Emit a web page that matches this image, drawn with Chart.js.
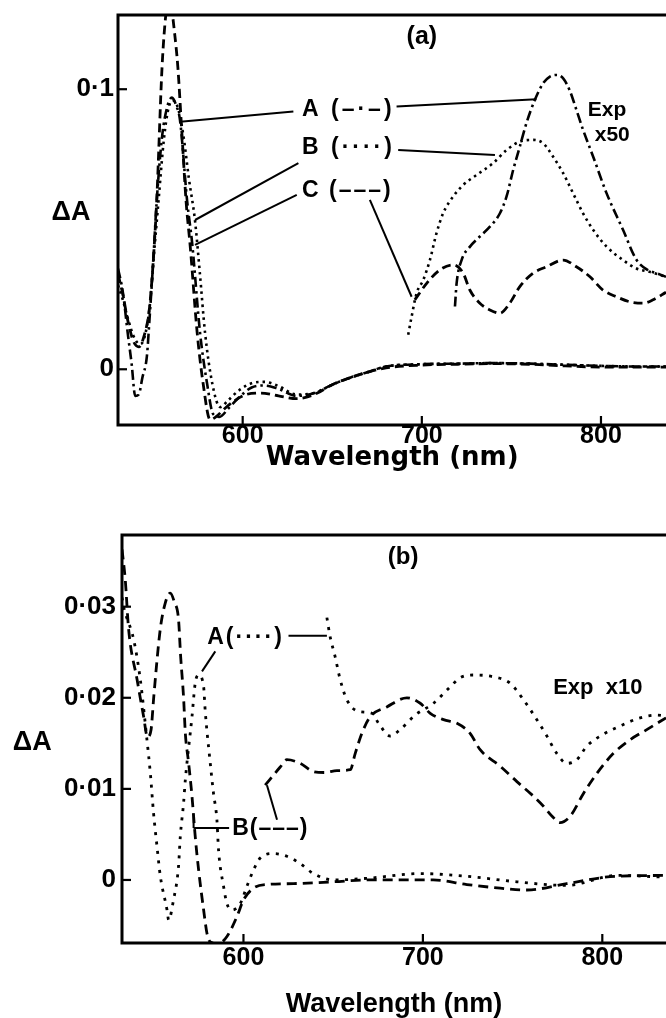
<!DOCTYPE html>
<html><head><meta charset="utf-8">
<script src="https://cdn.jsdelivr.net/npm/chart.js@4/dist/chart.umd.min.js"></script>
<style>
html,body{margin:0;padding:0;background:#fff;overflow:hidden;width:666px;height:1018px}
canvas{display:block;position:absolute;left:0}
#ca{top:0}
#cb{top:475px}
</style></head><body>
<canvas id="ca" width="666" height="475"></canvas>
<canvas id="cb" width="666" height="543"></canvas>
<script>
// ---------- ticks ----------
const xTicks = [600, 700, 800];
const xTickLabels = ['600', '700', '800'];
const aYTicks = [0, 0.1];
const aYTickLabels = ['0', '0·1'];
const bYTicks = [0, 0.01, 0.02, 0.03];
const bYTickLabels = ['0', '0·01', '0·02', '0·03'];

// ---------- Panel (a) data ----------
// A (dash-dot) main
const aA_x = [530.4, 533, 536, 538, 540, 542, 544, 546.5, 548, 550, 552, 555, 558, 560.5, 563, 565, 569, 571.8, 576.2, 580.1, 583.5, 587, 592, 598, 605, 612, 620, 630, 640, 650, 660, 670, 680, 700, 720, 740, 760, 780, 800, 820, 836.3];
const aA_y = [0.036, 0.028, 0.012, 0.002, -0.0095, -0.009, -0.003, 0.0045, 0.018, 0.038, 0.060, 0.083, 0.094, 0.097, 0.094, 0.089, 0.060, 0.045, 0.013, -0.005, -0.016, -0.017, -0.014, -0.010, -0.0065, -0.0058, -0.007, -0.0095, -0.0085, -0.0055, -0.003, -0.001, 0.001, 0.0018, 0.002, 0.0022, 0.002, 0.0016, 0.0012, 0.001, 0.001];
// B (dotted) main
const aB_x = [530.4, 533, 536, 539, 542.5, 545, 548, 551, 553, 556, 558.5, 561, 564, 567, 570, 573.4, 576, 579, 583, 587.4, 592, 598, 605, 612, 620, 630, 640, 650, 660, 670, 680, 700, 720, 740, 760, 780, 800, 820, 836.3];
const aB_y = [0.030, 0.025, 0.018, 0.012, 0.009, 0.011, 0.022, 0.045, 0.060, 0.082, 0.093, 0.096, 0.093, 0.083, 0.068, 0.053, 0.035, 0.013, -0.005, -0.0135, -0.011, -0.0075, -0.005, -0.0045, -0.006, -0.009, -0.0085, -0.0055, -0.003, -0.001, 0.001, 0.0018, 0.002, 0.0022, 0.002, 0.0016, 0.0012, 0.001, 0.001];
// C (dashed) main
const aC_x = [530.4, 533, 536, 539, 542, 545, 548, 550, 552, 555, 557, 558.5, 560, 562, 563.8, 566, 568.4, 570.7, 574.6, 577.9, 581.8, 585, 590, 596, 602, 610, 620, 630, 640, 650, 660, 670, 680, 700, 720, 740, 760, 780, 800, 820, 836.3];
const aC_y = [0.034, 0.027, 0.017, 0.010, 0.008, 0.012, 0.022, 0.038, 0.060, 0.108, 0.126, 0.132, 0.130, 0.120, 0.108, 0.085, 0.060, 0.044, 0.013, -0.005, -0.018, -0.017, -0.014, -0.011, -0.009, -0.0085, -0.0095, -0.0105, -0.009, -0.0055, -0.003, -0.001, 0.0005, 0.0015, 0.0018, 0.002, 0.0018, 0.0012, 0.0008, 0.0008, 0.0008];
// Exp x50 curves
const aAexp_x = [718.5, 719.4, 722.2, 726.9, 732.4, 738.0, 743.6, 747.3, 751.0, 754.7, 758.4, 763.1, 767.7, 771.5, 775.2, 778.9, 782.6, 786.3, 790.0, 795.6, 803.1, 812.3, 819.8, 826, 831.0, 836.3];
const aAexp_y = [0.0224, 0.0306, 0.0390, 0.0438, 0.0474, 0.0509, 0.0557, 0.0617, 0.0712, 0.0795, 0.0879, 0.0962, 0.1021, 0.1045, 0.1051, 0.1039, 0.0995, 0.0926, 0.0855, 0.0760, 0.0629, 0.0498, 0.0391, 0.0355, 0.0343, 0.0330];
const aBexp_x = [692.4, 694.3, 697.1, 700.8, 704.5, 708.2, 711.9, 717.5, 723.1, 730.6, 739.8, 747.3, 754.7, 762.1, 767.7, 773.3, 778.9, 784.4, 790.0, 795.6, 803.1, 812.3, 819.8, 827.2, 836.3];
const aBexp_y = [0.0123, 0.0188, 0.0272, 0.0319, 0.0390, 0.0486, 0.0557, 0.0617, 0.0658, 0.0694, 0.0736, 0.0783, 0.0813, 0.0819, 0.0807, 0.0759, 0.0700, 0.0629, 0.0557, 0.0498, 0.0438, 0.0390, 0.0360, 0.0348, 0.0330];
const aCexp_x = [696.1, 702.7, 710.1, 717.5, 723.1, 726.8, 732.4, 738.0, 743.6, 749.1, 754.7, 762.1, 769.6, 778.9, 786.3, 793.7, 801.1, 808.6, 816.0, 823.5, 829.1, 836.3];
const aCexp_y = [0.0248, 0.0307, 0.0355, 0.0373, 0.0343, 0.0283, 0.0236, 0.0212, 0.0200, 0.0236, 0.0295, 0.0343, 0.0366, 0.0390, 0.0366, 0.0331, 0.0283, 0.0259, 0.0241, 0.0236, 0.0248, 0.0275];

// ---------- Panel (b) data ----------
// A (dotted) main
const bA_x = [532.3, 533.2, 538.8, 542.5, 546.2, 548.1, 549.9, 551.8, 553.6, 557.4, 558.3, 561.0, 563.8, 564.8, 566.6, 567.6, 571.3, 573.1, 575.0, 577.8, 578.7, 581.5, 583.3, 585.2, 586.1, 588.9, 590.8, 593.6, 598.2, 601.9, 605.6, 609.3, 616.8, 624.2, 631.6, 639.0, 650.2, 670, 698.5, 724.5, 752.4, 780, 808.1, 835.5];
const bA_y = [0.031, 0.030, 0.0264, 0.022, 0.0154, 0.0117, 0.0073, 0.0037, 0.0005, -0.0033, -0.0044, -0.0022, 0.0015, 0.0048, 0.0084, 0.011, 0.0179, 0.0216, 0.0225, 0.0212, 0.0185, 0.0128, 0.0095, 0.0066, 0.0033, -0.0007, -0.0026, -0.0033, -0.0026, -0.0007, 0.0011, 0.0024, 0.0029, 0.0026, 0.0018, 0.0007, 0.0, 0.0002, 0.0007, 0.0004, -0.0002, -0.0006, 0.0005, 0.0003];
// B (dashed) main
const bB_x = [532.3, 534.1, 536, 540.7, 544.3, 546.5, 548.5, 550, 553.6, 556.4, 559.2, 561.5, 563.8, 565, 566.6, 567.6, 569.4, 571.3, 573.1, 575, 577.8, 579.7, 581.5, 586, 590.8, 596.4, 600, 605.6, 613.1, 627.9, 650, 668.8, 690, 705.7, 724.5, 743.1, 758, 780.2, 807.1, 835.5];
const bB_y = [0.0363, 0.033, 0.0275, 0.022, 0.018, 0.0157, 0.0165, 0.0201, 0.0275, 0.0304, 0.0315, 0.0305, 0.0286, 0.0245, 0.0201, 0.0161, 0.0129, 0.0092, 0.0048, 0.0011, -0.0033, -0.0059, -0.0068, -0.0070, -0.0062, -0.004, -0.0022, -0.0009, -0.0005, -0.0004, -0.0002, 0.0, 0.0, 0.0, -0.0005, -0.0009, -0.0011, -0.0004, 0.0004, 0.0005];
// Exp x10 curves
const bAexp_x = [646.5, 648.3, 651.1, 653.9, 657.6, 664.1, 671.6, 675.3, 681.8, 687.3, 695.7, 705.9, 715.2, 720.8, 728.2, 739.3, 748.6, 756.0, 763.5, 769.1, 774.6, 780.2, 785.8, 791.4, 798.8, 809.9, 821.1, 830.4, 835.5];
const bAexp_y = [0.0288, 0.0267, 0.0245, 0.0220, 0.0198, 0.0185, 0.0183, 0.0172, 0.0158, 0.0165, 0.0181, 0.0194, 0.0212, 0.0222, 0.0225, 0.0223, 0.0216, 0.0198, 0.0176, 0.0158, 0.0139, 0.0128, 0.0132, 0.0147, 0.0158, 0.0169, 0.0178, 0.0181, 0.0180];
const bBexp_x = [612.1, 620.5, 624.2, 631.6, 639.0, 645, 652.1, 659.5, 662.3, 666.0, 670.6, 679.9, 691.1, 698.5, 704.1, 711.5, 719.0, 726.3, 731.9, 743.0, 752.4, 761.6, 767.2, 772, 776.5, 782.1, 789.5, 797.0, 806.2, 815.5, 824.8, 835.5];
const bBexp_y = [0.0104, 0.0124, 0.0132, 0.0128, 0.0119, 0.0118, 0.0120, 0.0121, 0.0139, 0.0161, 0.0179, 0.0190, 0.0200, 0.0194, 0.0183, 0.0176, 0.0172, 0.0161, 0.0143, 0.0125, 0.0108, 0.0092, 0.0081, 0.0070, 0.0063, 0.0070, 0.0095, 0.0117, 0.0139, 0.0154, 0.0165, 0.0178];

// ---------- helpers ----------
const FONT = '"Liberation Sans", Arial, sans-serif';
const WIDE = '"DejaVu Sans", sans-serif';
const zip = (xs, ys) => xs.map((x, i) => ({x, y: ys[i]}));
const DASHDOT = [10, 4, 2.5, 4];
const DOT_A = [2.5, 4];
const DASH_A = [9, 5];
const DOT_B = [3, 6.5];
const DASH_B = [10, 6];
function ds(xs, ys, dash, w) {
  return {data: zip(xs, ys), borderColor: '#000', borderWidth: w || 2.6, borderDash: dash,
    borderCapStyle: 'butt', fill: false, pointRadius: 0, cubicInterpolationMode: 'monotone'};
}

const framePlugin = {
  id: 'frame',
  afterDatasetsDraw(chart, args, o) {
    const {ctx, chartArea: {left, top, right, bottom}, scales: {x, y}} = chart;
    ctx.save();
    ctx.strokeStyle = '#000';
    ctx.lineWidth = 3;
    ctx.lineCap = 'square';
    ctx.setLineDash([]);
    ctx.beginPath();
    ctx.moveTo(right + 5, top); ctx.lineTo(left, top); ctx.lineTo(left, bottom); ctx.lineTo(right + 5, bottom);
    ctx.stroke();
    ctx.lineWidth = 2.2;
    ctx.lineCap = 'butt';
    o.xTicks.forEach(v => { const px = x.getPixelForValue(v); ctx.beginPath(); ctx.moveTo(px, bottom); ctx.lineTo(px, bottom - o.tickLen); ctx.stroke(); });
    o.yTicks.forEach(v => { const py = y.getPixelForValue(v); ctx.beginPath(); ctx.moveTo(left, py); ctx.lineTo(left + o.tickLen, py); ctx.stroke(); });
    ctx.fillStyle = '#000';
    ctx.textBaseline = 'middle';
    ctx.font = 'bold ' + o.xTickFont + 'px ' + FONT;
    ctx.textAlign = 'center';
    o.xTicks.forEach((v, i) => ctx.fillText(o.xLabels[i], x.getPixelForValue(v), bottom + o.xLabelOff));
    ctx.font = 'bold ' + o.yTickFont + 'px ' + FONT;
    ctx.textAlign = 'right';
    o.yTicks.forEach((v, i) => ctx.fillText(o.yLabels[i], left - o.yLabelOff, y.getPixelForValue(v)));
    // leader lines
    ctx.lineWidth = 2;
    o.leaders.forEach(l => {
      ctx.beginPath();
      ctx.moveTo(x.getPixelForValue(l[0]), y.getPixelForValue(l[1]));
      ctx.lineTo(x.getPixelForValue(l[2]), y.getPixelForValue(l[3]));
      ctx.stroke();
    });
    // texts
    o.texts.forEach(t => {
      ctx.font = 'bold ' + t.size + 'px ' + (t.family || FONT);
      ctx.textAlign = t.align || 'left';
      ctx.letterSpacing = (t.spacing || 0) + 'px';
      ctx.fillText(t.t, x.getPixelForValue(t.x), y.getPixelForValue(t.y));
      ctx.letterSpacing = '0px';
    });
    ctx.restore();
  }
};

function makeChart(id, datasets, xr, yr, padding, frame) {
  return new Chart(document.getElementById(id), {
    type: 'line',
    data: {datasets},
    options: {
      responsive: false, animation: false, events: [],
      layout: {padding},
      scales: {
        x: {type: 'linear', display: false, min: xr[0], max: xr[1]},
        y: {type: 'linear', display: false, min: yr[0], max: yr[1]}
      },
      plugins: {legend: {display: false}, tooltip: {enabled: false}, frame}
    },
    plugins: [framePlugin]
  });
}

makeChart('ca', [
  ds(aA_x, aA_y, DASHDOT), ds(aB_x, aB_y, DOT_A), ds(aC_x, aC_y, DASH_A, 2.8),
  ds(aAexp_x, aAexp_y, DASHDOT), ds(aBexp_x, aBexp_y, DOT_A), ds(aCexp_x, aCexp_y, DASH_A, 2.8)
], [530.4, 836.3], [-0.0199, 0.1265], {left: 118, top: 15, right: 0, bottom: 50}, {
  xTicks, xLabels: xTickLabels, yTicks: aYTicks, yLabels: aYTickLabels,
  tickLen: 9, xTickFont: 25, yTickFont: 26, xLabelOff: 11, yLabelOff: 4,
  leaders: [
    [565.1, 0.0884, 628.3, 0.0920], [685.9, 0.0938, 764.0, 0.0964],
    [573.4, 0.0533, 631.1, 0.0736], [686.8, 0.0783, 740.8, 0.0765],
    [573.4, 0.0444, 630.2, 0.0623], [671.0, 0.0605, 694.3, 0.0259]
  ],
  texts: [
    {t: '(a)', x: 700.0, y: 0.1187, size: 25, align: 'center'},
    {t: 'A (–·–)', x: 633.1, y: 0.0926, size: 23, spacing: 3},
    {t: 'B (····)', x: 633.1, y: 0.0790, size: 23, spacing: 3},
    {t: 'C (–––)', x: 633.1, y: 0.0637, size: 23, spacing: 2},
    {t: 'Exp', x: 792.6, y: 0.0926, size: 21},
    {t: 'x50', x: 796.5, y: 0.0837, size: 21},
    {t: 'ΔA', x: 504.2, y: 0.0558, size: 27, align: 'center'},
    {t: 'Wavelength (nm)', x: 683.4, y: -0.0316, size: 26, align: 'center', family: WIDE}
  ]
});

makeChart('cb', [
  ds(bA_x, bA_y, DOT_B, 2.8), ds(bB_x, bB_y, DASH_B, 2.8),
  ds(bAexp_x, bAexp_y, DOT_B, 2.8), ds(bBexp_x, bBexp_y, DASH_B, 2.8)
], [532.3, 835.5], [-0.00692, 0.03787], {left: 122, top: 60, right: 0, bottom: 75}, {
  xTicks, xLabels: xTickLabels, yTicks: bYTicks, yLabels: bYTickLabels,
  tickLen: 9, xTickFont: 25, yTickFont: 26, xLabelOff: 15, yLabelOff: 6,
  leaders: [
    [584.3, 0.0251, 576.9, 0.0229], [625.1, 0.0268, 646.5, 0.0268],
    [572.2, 0.0072, 572.2, 0.0057], [572.2, 0.0057, 592.0, 0.0057],
    [618.7, 0.0066, 613.1, 0.0104]
  ],
  texts: [
    {t: '(b)', x: 689.0, y: 0.0354, size: 24, align: 'center'},
    {t: 'A(····)', x: 579.8, y: 0.0266, size: 23, spacing: 2},
    {t: 'B(–––)', x: 593.7, y: 0.0056, size: 23, spacing: 1},
    {t: 'Exp  x10', x: 772.6, y: 0.0211, size: 22},
    {t: 'ΔA', x: 482.3, y: 0.01505, size: 27, align: 'center'},
    {t: 'Wavelength (nm)', x: 683.9, y: -0.01372, size: 27, align: 'center'}
  ]
});
</script>
</body></html>
